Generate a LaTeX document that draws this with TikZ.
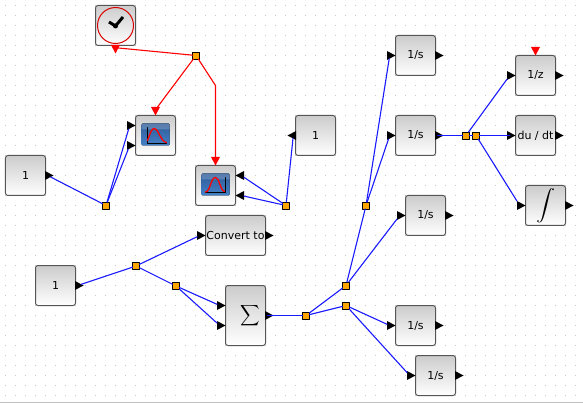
\documentclass[tikz,border=0pt]{standalone}
\usepackage{graphicx}
\usepackage{fontspec}
\setmainfont{DejaVu Sans}
\usetikzlibrary{shapes.geometric}
\definecolor{splitcol}{HTML}{FFA500}
\definecolor{blockedge}{HTML}{555555}
\definecolor{griddot}{HTML}{BBBBBB}
\definecolor{wireblue}{HTML}{1A1AFF}
\definecolor{icontop}{HTML}{2F5C98}
\definecolor{iconbot}{HTML}{4380C8}
\tikzset{
	block/.style={draw=blockedge,line width=1pt,rounded corners=2.5pt,top color=black!20,bottom color=white,minimum width=40pt,minimum height=40pt,inner sep=0pt,font=\fontsize{11}{13}\selectfont},
	port/.style={shape=isosceles triangle,isosceles triangle stretches=true,fill=black,inner sep=0pt,outer sep=0pt,minimum width=9pt,minimum height=8.5pt,anchor=apex},
	portright/.style={port},
	portleft/.style={port,shape border rotate=180},
	portdown/.style={port,shape border rotate=-90,fill=#1},
	portdown/.default=red,
	split/.style={draw=black,fill=splitcol,line width=0.9pt,minimum size=7pt,inner sep=0pt,outer sep=0pt},
	wire/.style={draw=wireblue,line width=1.1pt},
	redwire/.style={draw=red,line width=1.1pt},
	icon/.style={rounded corners=1pt,top color=icontop,bottom color=iconbot}
}
\begin{document}
\begin{tikzpicture}[line cap=round,line join=round,x=1pt,y=-1pt]
	\useasboundingbox (-0.5,-0.5) rectangle (582.5,402.5);
	\foreach \i in {0,...,57} \foreach \j in {0,...,39}
		\fill [griddot] (5+10*\i,5+10*\j) circle (0.5pt);
	\draw [line width=1pt,color=black!25] (-0.5,402) -- (582.5,402);

	\node [block] (clock) at (115,25) {};
	\node [block] (scopea) at (155,135) {};
	\node [block] (scopeb) at (215,185) {};
	\node [block] (consta) at (25,175) {1};
	\node [block] (constb) at (315,135) {1};
	\node [block] (constc) at (55,285) {1};
	\node [block,minimum width=60pt] (conv) at (235,235) {Convert to};
	\node [block,minimum height=60pt] (sum) at (245,315) {\hspace*{10pt}\scalebox{1.35}[1.45]{$\displaystyle\sum$}};
	\node [block] (inta) at (415,55) {1/s};
	\node [block] (intb) at (415,135) {1/s};
	\node [block] (intc) at (425,215) {1/s};
	\node [block] (intd) at (415,325) {1/s};
	\node [block] (inte) at (435,375) {1/s};
	\node [block] (delay) at (535,75) {1/z};
	\node [block] (deriv) at (535,135) {du / dt};
	\node [block] (integ) at (545,205) {\scalebox{1.9}[1.55]{$\displaystyle\int$}};

	\draw [red!85!black,line width=1pt] (115,25) circle (18pt);
	\draw [line width=3pt,line cap=butt] (108.5,21.5) -- (115,25.5) -- (122.5,16.5);
	\fill (115,25.5) circle (2.5pt);
	\fill [icon] (141,123) rectangle (169,145);
	\fill [white,opacity=0.2,rounded corners=1pt] (141,123) rectangle (169,129);
	\draw [line width=0.8pt] (146.5,127) -- (146.5,143) -- (166,143);
	\draw [red,line width=1.3pt] (147,140) .. controls (150,132) and (151,128) .. (154,128) .. controls (158,128) and (159,140) .. (166,142);
	\fill [icon] (201,173) rectangle (229,195);
	\fill [white,opacity=0.2,rounded corners=1pt] (201,173) rectangle (229,179);
	\draw [line width=0.8pt] (224.5,177) -- (224.5,192) -- (205,192);
	\draw [red,line width=1.3pt] (205,191.5) .. controls (210,191) and (210,177) .. (215,177) .. controls (219,177) and (219,189) .. (224,191);

	\node [portdown] (clocko) at (115,53) {};
	\node [portdown] (scopeac) at (155,115) {};
	\node [portdown] (scopebc) at (215,165) {};
	\node [portdown] (delayc) at (535,55) {};
	\node [portright] (scopeaa) at (135,125) {};
	\node [portright] (scopeab) at (135,145) {};
	\node [portleft] (scopeba) at (235,175) {};
	\node [portleft] (scopebb) at (235,195) {};
	\node [portright] (constao) at (53,175) {};
	\node [portleft] (constbo) at (287,135) {};
	\node [portright] (constco) at (83,285) {};
	\node [portright] (convi) at (205,235) {};
	\node [portright] (convo) at (273,235) {};
	\node [portright] (sumia) at (225,305) {};
	\node [portright] (sumib) at (225,325) {};
	\node [portright] (sumo) at (273,315) {};
	\node [portright] (intai) at (395,55) {};
	\node [portright] (intao) at (443,55) {};
	\node [portright] (intbi) at (395,135) {};
	\node [portright] (intbo) at (443,135) {};
	\node [portright] (intci) at (405,215) {};
	\node [portright] (intco) at (453,215) {};
	\node [portright] (intdi) at (395,325) {};
	\node [portright] (intdo) at (443,325) {};
	\node [portright] (intei) at (415,375) {};
	\node [portright] (inteo) at (463,375) {};
	\node [portright] (delayi) at (515,75) {};
	\node [portright] (delayo) at (563,75) {};
	\node [portright] (derivi) at (515,135) {};
	\node [portright] (derivo) at (563,135) {};
	\node [portright] (integi) at (525,205) {};
	\node [portright] (intego) at (573,205) {};

	\node [split] (spa) at (195.5,55) {};
	\node [split] (spb) at (105.5,205) {};
	\node [split] (spc) at (285.5,205) {};
	\node [split] (spd) at (135.5,265.5) {};
	\node [split] (spe) at (175.5,285.5) {};
	\node [split] (spf) at (305.5,315) {};
	\node [split] (spg) at (345.5,285) {};
	\node [split] (sph) at (345.5,305) {};
	\node [split] (spi) at (365.5,205) {};
	\node [split] (spj) at (465.5,135) {};
	\node [split] (spk) at (475.5,135) {};
	\coordinate (bend) at (215,85);

	\draw [redwire] (spa) -- (clocko);
	\draw [redwire] (spa) -- (scopeac);
	\draw [redwire] (spa) -- (bend) -- (scopebc);
	\draw [wire] (constao) -- (spb);
	\draw [wire] (spb) -- (scopeaa);
	\draw [wire] (spb) -- (scopeab);
	\draw [wire] (spc) -- (scopeba);
	\draw [wire] (spc) -- (scopebb);
	\draw [wire] (spc) -- (constbo);
	\draw [wire] (constco) -- (spd);
	\draw [wire] (spd) -- (convi);
	\draw [wire] (spd) -- (spe);
	\draw [wire] (spe) -- (sumia);
	\draw [wire] (spe) -- (sumib);
	\draw [wire] (sumo.center) -- (spf);
	\draw [wire] (spf) -- (spg);
	\draw [wire] (spf) -- (sph);
	\draw [wire] (spg) -- (spi);
	\draw [wire] (spg) -- (intci);
	\draw [wire] (spi) -- (intai);
	\draw [wire] (spi) -- (intbi);
	\draw [wire] (sph) -- (intdi);
	\draw [wire] (sph) -- (intei);
	\draw [wire] (intbo.center) -- (spj);
	\draw [wire] (spj) -- (spk);
	\draw [wire] (spj) -- (delayi);
	\draw [wire] (spk) -- (derivi.center);
	\draw [wire] (spk) -- (integi);
\end{tikzpicture}
\end{document}
